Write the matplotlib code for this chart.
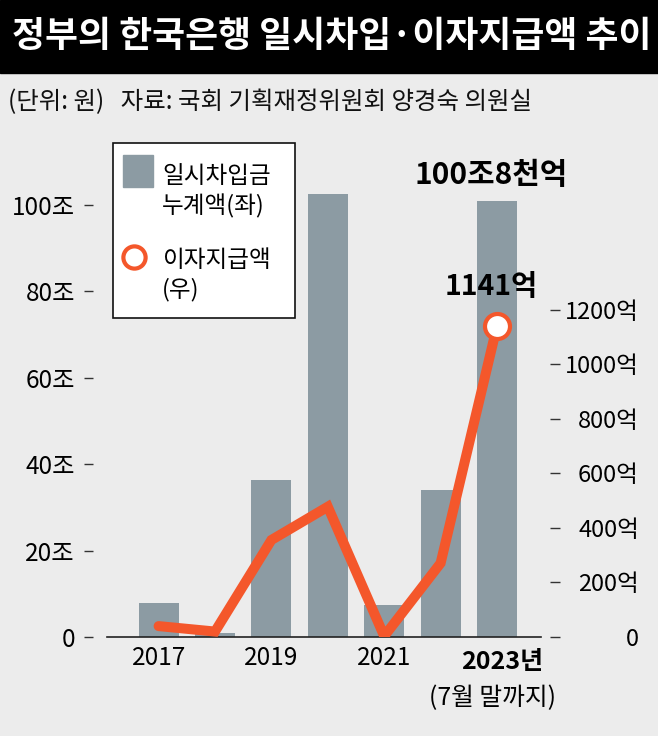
import matplotlib.pyplot as plt
from matplotlib.patches import Rectangle
from matplotlib.lines import Line2D

plt.rcParams['font.family'] = ['Noto Sans CJK KR', 'DejaVu Sans']

# data (조 원 / 억 원)
years = [2017, 2018, 2019, 2020, 2021, 2022, 2023]
borrow = [7.9, 0.9, 36.3, 102.6, 7.4, 34.0, 100.8]
interest = [40, 20, 356, 478, 3, 271, 1141]

left_ticks = [0, 20, 40, 60, 80, 100]
left_labels = ['0', '20조', '40조', '60조', '80조', '100조']
right_ticks = [0, 200, 400, 600, 800, 1000, 1200]
right_labels = ['0', '200억', '400억', '600억', '800억', '1000억', '1200억']
year_ticks = [2017, 2019, 2021, 2023]
year_labels = ['2017', '2019', '2021', '']

BG = '#ececec'
BAR = '#8c9ba3'
LINE = '#f4572b'

W, H = 658, 736


def fx(px):
    return px / W


def fy(py):
    return 1 - py / H


fig = plt.figure(figsize=(W / 100, H / 100), dpi=100, facecolor=BG)

# title bar
fig.patches.append(Rectangle((0, fy(73)), 1, 73 / H, transform=fig.transFigure,
                             color='black', zorder=0))
fig.text(fx(12), fy(37), '정부의 한국은행 일시차입·이자지급액 추이', color='white',
         fontsize=25.8, fontweight='bold', va='center', ha='left')
fig.text(fx(8), fy(102), '(단위: 원)   자료: 국회 기획재정위원회 양경숙 의원실',
         fontsize=17.6, va='center', ha='left', color='#111')

ax = fig.add_axes([fx(107), fy(637), (541 - 107) / W, (637 - 150) / H])
ax.set_facecolor('none')
ax.bar(years, borrow, width=0.71, color=BAR, zorder=1)
ax.set_xlim(2016.085, 2023.78)
ax.set_ylim(0, 112.7)

for s in ['top', 'right', 'left']:
    ax.spines[s].set_visible(False)
ax.spines['bottom'].set_color('#222')
ax.spines['bottom'].set_linewidth(1.2)
ax.spines['left'].set_position(('outward', 10))

ax.set_yticks(left_ticks)
ax.set_yticklabels(left_labels)
ax.tick_params(axis='y', length=6.5, width=1, color='#333', pad=6.5, labelsize=17.5)
ax.set_xticks(year_ticks)
ax.set_xticklabels(year_labels)
ax.tick_params(axis='x', length=0, pad=6, labelsize=17.5)

ax2 = ax.twinx()
ax2.set_ylim(0, 1787)
ax2.plot(years, interest, color=LINE, lw=7.2, solid_capstyle='round',
         solid_joinstyle='miter', zorder=3)
ax2.plot(years[-1], interest[-1], 'o', ms=18, mfc='white', mec=LINE, mew=3, zorder=4)
for s in ['top', 'left', 'bottom', 'right']:
    ax2.spines[s].set_visible(False)
ax2.spines['right'].set_position(('outward', 6.5))
ax2.set_yticks(right_ticks)
ax2.set_yticklabels(right_labels, ha='right')
ax2.tick_params(axis='y', length=7, width=1, color='#333', pad=57, labelsize=17)

# annotations
ax.annotate('100조8천억', xy=(years[-1], borrow[-1]), xytext=(-4.3, 19),
            textcoords='offset points', ha='center', va='center',
            fontsize=21.5, fontweight='bold')
ax2.annotate(f'{interest[-1]}억', xy=(years[-1], interest[-1]), xytext=(-4.3, 28),
             textcoords='offset points', ha='center', va='center',
             fontsize=20.5, fontweight='bold')
ax.annotate('2023년', xy=(years[-1], 0), xytext=(3.6, -18),
            textcoords='offset points', ha='center', va='center',
            fontsize=18, fontweight='bold')
ax.annotate('(7월 말까지)', xy=(years[-1], 0), xytext=(-3, -44),
            textcoords='offset points', ha='center', va='center', fontsize=17.8)

# legend box
fig.patches.append(Rectangle((fx(113), fy(318)), (295 - 113) / W, (318 - 143) / H,
                             transform=fig.transFigure, facecolor='white',
                             edgecolor='#111', lw=1.2, zorder=5))
fig.patches.append(Rectangle((fx(123), fy(187)), 30 / W, 32 / H,
                             transform=fig.transFigure, color=BAR, zorder=6))
fig.lines.append(Line2D([fx(134)], [fy(257)], transform=fig.transFigure, marker='o',
                        ms=16, mfc='white', mec=LINE, mew=3, zorder=6))
fig.text(fx(162), fy(192), '일시차입금\n누계액(좌)', fontsize=17, va='center',
         ha='left', linespacing=1.3, zorder=7)
fig.text(fx(162), fy(275), '이자지급액\n(우)', fontsize=17, va='center',
         ha='left', linespacing=1.3, zorder=7)

fig.savefig('out.png', dpi=100, facecolor=BG)
